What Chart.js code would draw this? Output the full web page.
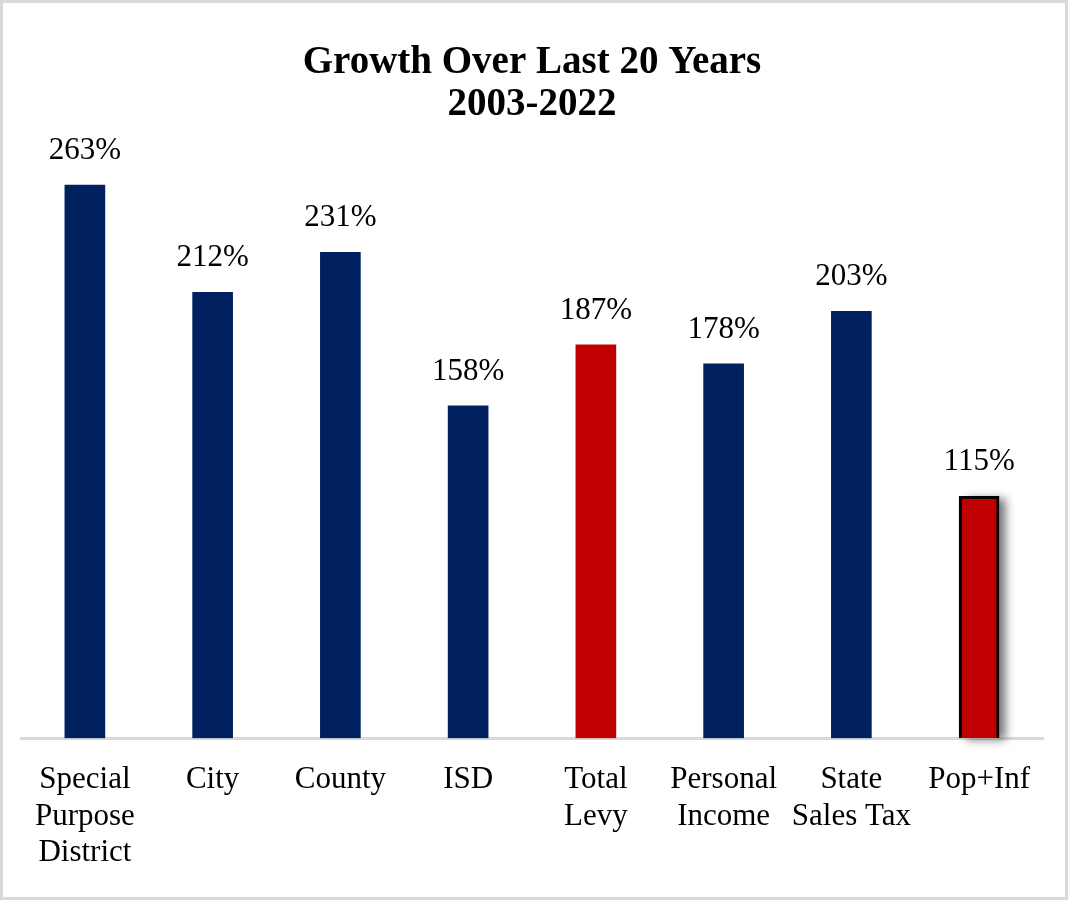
<!DOCTYPE html>
<html>
<head>
<meta charset="utf-8">
<title>Growth Over Last 20 Years</title>
<script src="https://cdn.jsdelivr.net/npm/chart.js@4.4.0/dist/chart.umd.min.js"></script>
<style>
  html, body { margin: 0; padding: 0; background: #fff; }
  #wrap { width: 1068px; height: 900px; position: relative; }
</style>
</head>
<body>
<div id="wrap"><canvas id="growthChart"></canvas></div>
<script>
// chart data
const categories = [
    ['Special', 'Purpose', 'District'],
    'City',
    'County',
    'ISD',
    ['Total', 'Levy'],
    ['Personal', 'Income'],
    ['State', 'Sales Tax'],
    'Pop+Inf'
];
const growthPct = [263, 212, 231, 158, 187, 178, 203, 115];
const highlighted = [false, false, false, false, true, false, false, true];
const outlined = [false, false, false, false, false, false, false, true];
const titleLines = ['Growth Over Last 20 Years', '2003-2022'];

const NAVY = '#002060';
const RED = '#C00000';
const FONT = "'Liberation Serif', 'Times New Roman', serif";

// white background + light grey frame round the whole picture
const framePlugin = {
    id: 'frame',
    beforeDraw(chart) {
        const ctx = chart.ctx;
        ctx.save();
        ctx.fillStyle = '#fff';
        ctx.fillRect(0, 0, chart.width, chart.height);
        ctx.strokeStyle = '#d9d9d9';
        ctx.lineWidth = 3;
        ctx.strokeRect(1.5, 1.5, chart.width - 3, chart.height - 3);
        ctx.restore();
    }
};

// soft drop shadow behind the outlined bar
const shadowPlugin = {
    id: 'barShadow',
    beforeDatasetsDraw(chart) {
        const meta = chart.getDatasetMeta(0);
        const ctx = chart.ctx;
        meta.data.forEach((bar, i) => {
            if (!outlined[i]) return;
            const p = bar.getProps(['x', 'y', 'width', 'base'], true);
            ctx.save();
            ctx.shadowColor = 'rgba(0,0,0,0.55)';
            ctx.shadowBlur = 9;
            ctx.shadowOffsetX = 7;
            ctx.shadowOffsetY = 2;
            ctx.fillStyle = '#fff';
            ctx.fillRect(p.x - p.width / 2, p.y, p.width, p.base - p.y);
            ctx.restore();
        });
    }
};

// value labels above bars
const valueLabels = {
    id: 'valueLabels',
    afterDatasetsDraw(chart) {
        const meta = chart.getDatasetMeta(0);
        const ctx = chart.ctx;
        ctx.save();
        ctx.font = '31px ' + FONT;
        ctx.fillStyle = '#000';
        ctx.textAlign = 'center';
        ctx.textBaseline = 'alphabetic';
        meta.data.forEach((bar, i) => {
            ctx.fillText(growthPct[i] + '%', bar.x, bar.y - 26);
        });
        ctx.restore();
    }
};

new Chart(document.getElementById('growthChart').getContext('2d'), {
    type: 'bar',
    data: {
        labels: categories,
        datasets: [{
            data: growthPct,
            backgroundColor: highlighted.map(h => h ? RED : NAVY),
            borderColor: '#000',
            borderWidth: outlined.map(o => o ? 3 : 0),
            borderSkipped: 'start',
            barThickness: 40
        }]
    },
    options: {
        responsive: true,
        maintainAspectRatio: false,
        animation: false,
        layout: { padding: { left: 21, right: 25, top: 0, bottom: 5 } },
        plugins: {
            legend: { display: false },
            tooltip: { enabled: false },
            title: {
                display: true,
                text: titleLines,
                color: '#000',
                font: { family: FONT, size: 39, weight: 'bold', lineHeight: 1.08 },
                padding: { top: 42, bottom: 2 }
            }
        },
        scales: {
            x: {
                grid: { display: false, drawTicks: false },
                border: { display: true, color: '#d9d9d9', width: 3 },
                ticks: {
                    color: '#000',
                    padding: 24,
                    maxRotation: 0,
                    autoSkip: false,
                    font: { family: FONT, size: 31, lineHeight: 1.17 }
                }
            },
            y: {
                display: false,
                min: 0,
                max: 290
            }
        }
    },
    plugins: [framePlugin, shadowPlugin, valueLabels]
});
</script>
</body>
</html>
